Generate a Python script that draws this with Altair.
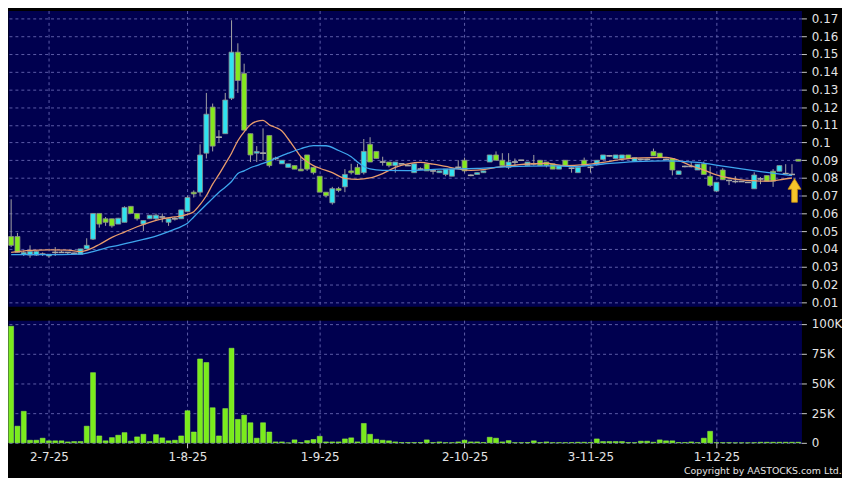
import altair as alt
import pandas as pd

# ---------------- data ----------------
open_ = [
    0.047, 0.047, 0.037, 0.0365, 0.0365, 0.037, 0.036, 0.038, 0.038, 0.038,
    0.0375, 0.037, 0.040, 0.0455, 0.060, 0.057, 0.057, 0.054, 0.055, 0.064,
    0.060, 0.054, 0.057, 0.057, 0.058, 0.055, 0.057, 0.057, 0.061, 0.072,
    0.072, 0.094, 0.120, 0.103, 0.105, 0.125, 0.151, 0.139, 0.105, 0.094,
    0.094, 0.104, 0.091, 0.088, 0.086, 0.087, 0.085, 0.093, 0.086, 0.081,
    0.072, 0.066, 0.074, 0.075, 0.084, 0.086, 0.083, 0.099, 0.095, 0.089,
    0.089, 0.087, 0.088, 0.087, 0.083, 0.085, 0.088, 0.084, 0.083, 0.082,
    0.081, 0.086, 0.090, 0.0815, 0.082, 0.083, 0.089, 0.093, 0.090, 0.086,
    0.089, 0.090, 0.087, 0.088, 0.090, 0.089, 0.088, 0.085, 0.090, 0.0855,
    0.083, 0.090, 0.086, 0.0875, 0.0905, 0.0925, 0.091, 0.091, 0.093, 0.0895,
    0.0905, 0.0905, 0.095, 0.094, 0.0905, 0.091, 0.082, 0.0865, 0.0865, 0.0845,
    0.088, 0.081, 0.0726, 0.0845, 0.0786, 0.078, 0.078, 0.0775, 0.0739, 0.0795,
    0.0814, 0.0838, 0.0838, 0.0825, 0.082, 0.0905,
]
high = [
    0.068, 0.049, 0.039, 0.042, 0.039, 0.038, 0.037, 0.041, 0.039, 0.038,
    0.038, 0.040, 0.046, 0.060, 0.060, 0.058, 0.057, 0.0575, 0.064, 0.064,
    0.060, 0.056, 0.059, 0.060, 0.060, 0.057, 0.058, 0.062, 0.070, 0.073,
    0.099, 0.128, 0.122, 0.107, 0.128, 0.169, 0.156, 0.1445, 0.105, 0.098,
    0.108, 0.104, 0.092, 0.090, 0.088, 0.087, 0.092, 0.093, 0.086, 0.081,
    0.072, 0.075, 0.075, 0.085, 0.088, 0.088, 0.102, 0.103, 0.095, 0.092,
    0.089, 0.089, 0.088, 0.088, 0.088, 0.086, 0.088, 0.085, 0.084, 0.085,
    0.085, 0.090, 0.0915, 0.082, 0.083, 0.084, 0.093, 0.095, 0.094, 0.094,
    0.091, 0.090, 0.089, 0.093, 0.090, 0.089, 0.088, 0.087, 0.090, 0.086,
    0.086, 0.0915, 0.087, 0.090, 0.093, 0.093, 0.093, 0.093, 0.093, 0.0915,
    0.091, 0.091, 0.0966, 0.094, 0.091, 0.091, 0.084, 0.087, 0.089, 0.0878,
    0.0893, 0.0865, 0.0776, 0.0855, 0.079, 0.081, 0.078, 0.0775, 0.0832, 0.0805,
    0.0814, 0.085, 0.087, 0.0878, 0.0878, 0.0905,
]
low = [
    0.041, 0.038, 0.036, 0.035, 0.036, 0.036, 0.035, 0.036, 0.038, 0.037,
    0.037, 0.037, 0.040, 0.045, 0.052, 0.053, 0.052, 0.054, 0.055, 0.060,
    0.056, 0.050, 0.057, 0.056, 0.055, 0.053, 0.056, 0.057, 0.061, 0.069,
    0.070, 0.091, 0.095, 0.100, 0.105, 0.124, 0.128, 0.107, 0.089, 0.089,
    0.090, 0.086, 0.090, 0.088, 0.086, 0.085, 0.084, 0.084, 0.082, 0.072,
    0.069, 0.065, 0.072, 0.072, 0.082, 0.082, 0.082, 0.089, 0.091, 0.087,
    0.086, 0.083, 0.088, 0.087, 0.083, 0.085, 0.084, 0.082, 0.083, 0.081,
    0.081, 0.085, 0.083, 0.081, 0.082, 0.083, 0.089, 0.090, 0.087, 0.085,
    0.087, 0.090, 0.087, 0.087, 0.087, 0.086, 0.085, 0.085, 0.087, 0.083,
    0.083, 0.087, 0.083, 0.087, 0.090, 0.092, 0.091, 0.091, 0.091, 0.089,
    0.090, 0.090, 0.0925, 0.0915, 0.090, 0.0815, 0.082, 0.086, 0.086, 0.0845,
    0.082, 0.075, 0.072, 0.079, 0.076, 0.077, 0.078, 0.0775, 0.0739, 0.0765,
    0.0782, 0.075, 0.0838, 0.0823, 0.0823, 0.0895,
]
close = [
    0.042, 0.038, 0.038, 0.0385, 0.0385, 0.037, 0.037, 0.038, 0.038, 0.038,
    0.0375, 0.040, 0.042, 0.060, 0.054, 0.055, 0.053, 0.0573, 0.0634, 0.060,
    0.057, 0.056, 0.059, 0.059, 0.058, 0.057, 0.057, 0.062, 0.069, 0.071,
    0.093, 0.116, 0.098, 0.103, 0.124, 0.151, 0.135, 0.107, 0.093, 0.095,
    0.094, 0.087, 0.091, 0.090, 0.088, 0.085, 0.084, 0.085, 0.083, 0.072,
    0.070, 0.074, 0.073, 0.082, 0.083, 0.082, 0.095, 0.089, 0.091, 0.089,
    0.087, 0.089, 0.088, 0.087, 0.088, 0.085, 0.084, 0.084, 0.084, 0.085,
    0.085, 0.086, 0.084, 0.0815, 0.083, 0.084, 0.093, 0.090, 0.087, 0.089,
    0.089, 0.090, 0.089, 0.088, 0.087, 0.087, 0.085, 0.087, 0.087, 0.0855,
    0.086, 0.087, 0.086, 0.090, 0.093, 0.0925, 0.093, 0.093, 0.091, 0.0915,
    0.0905, 0.0905, 0.0925, 0.0915, 0.0905, 0.0845, 0.084, 0.0865, 0.0865, 0.0878,
    0.082, 0.0758, 0.0776, 0.079, 0.0786, 0.078, 0.078, 0.0775, 0.0817, 0.0795,
    0.0782, 0.0782, 0.087, 0.0825, 0.082, 0.0895,
]
volume_k = [
    98, 14, 26.5, 2.2, 2.2, 3.9, 1.7, 1.7, 1.7, 0.8,
    1.1, 1.1, 14, 59, 5.8, 1.7, 4.4, 6.4, 8.6, 1.4,
    5, 7.2, 1.1, 6.9, 4.2, 1.7, 2.2, 5.8, 27, 9.1,
    70.5, 67.5, 29.5, 5.8, 28.8, 79.5, 19.7, 23.3, 16.9, 3.9,
    16.9, 9.1, 0.8, 0.8, 0, 2.5, 0.3, 1.9, 2.8, 5.5,
    0.8, 0.8, 0.8, 3.3, 4.2, 0.8, 16.3, 7.2, 3, 2.2,
    1.7, 0.8, 0.3, 0.3, 0.3, 0.3, 2.5, 0.3, 0.8, 0.2,
    0.2, 0.8, 2.2, 0.8, 0.8, 0.3, 4.7, 3.9, 0.8, 1.9,
    0.2, 0.2, 0.3, 1.7, 0.3, 0.8, 0.2, 0.2, 0.2, 0.3,
    0.5, 0.5, 0.3, 3.3, 1.1, 1.1, 1.1, 1.1, 0.3, 0.2,
    1.4, 1.4, 0.5, 2.5, 1.7, 1.7, 0.3, 0.3, 0.8, 0.2,
    3.9, 9.7, 0.2, 0.2, 0.2, 0.1, 0.1, 0.1, 0.2, 0.5,
    0.5, 0.5, 0.5, 0.5, 0.5, 0.5,
]

# moving averages as drawn on the reference (sampled)
ma_fast_idx = [0, 3, 6, 9, 11, 12, 14, 16, 18, 20, 22, 24, 26, 28, 29, 30, 31, 32, 33, 34,
               35, 36, 37, 38, 39, 40, 41, 42, 43, 44, 45, 46, 47, 48, 49, 51, 53, 55, 57, 59,
               61, 63, 65, 67, 69, 71, 73, 75, 77, 79, 82, 85, 88, 91, 94, 97, 100, 104, 106, 108,
               110, 112, 114, 116, 118, 120, 122, 124]
ma_fast_val = [0.0380, 0.0392, 0.0395, 0.0393, 0.0384, 0.0392, 0.0425, 0.0465, 0.0495, 0.0525,
               0.0550, 0.0570, 0.0580, 0.0595, 0.0610, 0.0650, 0.0700, 0.0765, 0.0820, 0.0880,
               0.0940, 0.1010, 0.1060, 0.1100, 0.1120, 0.1125, 0.1100, 0.1085, 0.1065, 0.1020,
               0.0970, 0.0920, 0.0892, 0.0870, 0.0855, 0.0830, 0.0798, 0.0792, 0.0800, 0.0825,
               0.0860, 0.0880, 0.0888, 0.0878, 0.0865, 0.0852, 0.0843, 0.0847, 0.0860, 0.0869,
               0.0879, 0.0882, 0.0870, 0.0875, 0.0888, 0.0905, 0.0913, 0.0916, 0.0900, 0.0869,
               0.0845, 0.0818, 0.0800, 0.0790, 0.0785, 0.0782, 0.0790, 0.0800]
ma_slow_idx = [0, 4, 8, 11, 13, 15, 17, 19, 21, 23, 25, 26, 27, 28, 29, 30, 31, 32, 33, 34,
               35, 36, 37, 38, 39, 40, 41, 42, 44, 46, 48, 50, 52, 54, 55, 56, 57, 59, 63, 68,
               74, 79, 86, 89, 94, 99, 104, 109, 113, 116, 120, 124]
ma_slow_val = [0.0368, 0.0368, 0.0368, 0.0370, 0.0385, 0.0405, 0.0420, 0.0437, 0.0453, 0.0472,
               0.0497, 0.0511, 0.0526, 0.0545, 0.0580, 0.0615, 0.0650, 0.0685, 0.0720, 0.0748,
               0.0780, 0.0825, 0.0840, 0.0858, 0.0870, 0.0882, 0.0895, 0.0912, 0.0940, 0.0965,
               0.0983, 0.0982, 0.0955, 0.0920, 0.0890, 0.0865, 0.0851, 0.0843, 0.0842, 0.0850,
               0.0854, 0.0864, 0.0869, 0.0864, 0.0879, 0.0892, 0.0897, 0.0888, 0.0867, 0.0851,
               0.0832, 0.0814]

tick_idx = [6, 28, 49, 72, 92, 112]
tick_labels = ["2-7-25", "1-8-25", "1-9-25", "2-10-25", "3-11-25", "1-12-25"]
price_ticks = [0.01, 0.02, 0.03, 0.04, 0.05, 0.06, 0.07, 0.08, 0.09, 0.10,
               0.11, 0.12, 0.13, 0.14, 0.15, 0.16, 0.17]
vol_ticks = [0, 25, 50, 75, 100]

marker_idx = [124.4]
marker_val = [0.073]

n = len(open_)
assert len(high) == n and len(low) == n and len(close) == n and len(volume_k) == n
assert len(ma_fast_idx) == len(ma_fast_val) and len(ma_slow_idx) == len(ma_slow_val)

direction = ["up" if c > o else ("down" if c < o else "flat") for o, c in zip(open_, close)]
candles = pd.DataFrame({"idx": list(range(n)), "o": open_, "h": high, "l": low,
                        "c": close, "dir": direction, "vol": volume_k})
fast = pd.DataFrame({"idx": ma_fast_idx, "v": ma_fast_val})
slow = pd.DataFrame({"idx": ma_slow_idx, "v": ma_slow_val})
marker = pd.DataFrame({"idx": marker_idx, "v": marker_val})

# ---------------- styling ----------------
NAVY = "#00004f"
CYAN = "#30e2f0"
GREEN = "#84e81e"
GRIDC = "#5c5ca8"
LABELC = "#e4e4e4"
FONT = "DejaVu Sans"

xscale = alt.Scale(domain=[-0.5, n - 0.5], nice=False, zero=False, padding=0)
grid_kw = dict(grid=True, gridColor=GRIDC, gridDash=[3, 3], gridWidth=1, domain=False, title=None)
lab_kw = dict(labelColor=LABELC, labelFontSize=12, labelFont=FONT, tickColor="#c8c8c8",
              tickSize=5, labelFlush=False)

x_price = alt.X("idx:Q", scale=xscale,
                axis=alt.Axis(values=tick_idx, labels=False, ticks=False, **grid_kw))
yscale_p = alt.Scale(domain=[0.0076, 0.1745], nice=False, zero=False, padding=0)
y_axis_p = alt.Axis(orient="right", values=price_ticks, format=".2~f", labelPadding=5,
                    **grid_kw, **lab_kw)

base = alt.Chart(candles)
wicks = base.mark_rule(color="#a4a4a4", strokeWidth=1).encode(
    x=x_price, y=alt.Y("l:Q", scale=yscale_p, axis=y_axis_p), y2="h:Q")
bodies = base.mark_bar(size=5, orient="vertical", stroke="#8e8e8e", strokeWidth=0.8).encode(
    x=x_price, y=alt.Y("o:Q", scale=yscale_p, axis=y_axis_p), y2="c:Q",
    color=alt.Color("dir:N", scale=alt.Scale(domain=["up", "down", "flat"],
                                             range=[CYAN, GREEN, "#9c9c9c"]), legend=None))
flats = base.transform_filter("datum.dir == 'flat'").mark_rule(
    color="#a8a8a8", strokeWidth=1.5, xOffset=-3, x2Offset=3).encode(
    x=x_price, x2="idx:Q", y=alt.Y("o:Q", scale=yscale_p, axis=y_axis_p))
fast_line = alt.Chart(fast).mark_line(color="#e99c6c", strokeWidth=1.3, interpolate="monotone").encode(
    x=x_price, y=alt.Y("v:Q", scale=yscale_p, axis=y_axis_p))
slow_line = alt.Chart(slow).mark_line(color="#3ea6ee", strokeWidth=1.3, interpolate="monotone").encode(
    x=x_price, y=alt.Y("v:Q", scale=yscale_p, axis=y_axis_p))
arrow_shape = "M0,-1 L0.55,-0.1 L0.24,-0.1 L0.24,1 L-0.24,1 L-0.24,-0.1 L-0.55,-0.1 Z"
arrow = alt.Chart(marker).mark_point(shape=arrow_shape, size=576, filled=True, fill="#f6c52a",
                                     stroke="#c98e12", strokeWidth=0.8, opacity=1).encode(
    x=x_price, y=alt.Y("v:Q", scale=yscale_p, axis=y_axis_p))

price = alt.layer(wicks, bodies, flats, fast_line, slow_line, arrow).properties(width=802, height=299)

label_expr = " : ".join(f"datum.value == {i} ? '{t}'" for i, t in zip(tick_idx, tick_labels)) + " : ''"
x_vol = alt.X("idx:Q", scale=xscale,
              axis=alt.Axis(values=tick_idx, labelExpr=label_expr, labelPadding=4,
                            **grid_kw, **lab_kw))
y_vol = alt.Y("vol:Q", scale=alt.Scale(domain=[0, 103.1], nice=False, padding=0),
              axis=alt.Axis(orient="right", values=vol_ticks, labelPadding=5,
                            labelExpr="datum.value == 0 ? '0' : datum.value + 'K'", **grid_kw, **lab_kw))
vol = base.mark_bar(size=5, orient="vertical", color="#7aec1c", stroke="#9af04e", strokeWidth=0.5).encode(
    x=x_vol, y=y_vol).properties(
    width=802, height=124,
    title=alt.TitleParams("Copyright by AASTOCKS.com Ltd.", orient="bottom", anchor="end",
                          color=LABELC, fontSize=9.5, fontWeight="normal", font=FONT, offset=3))

chart = alt.vconcat(price, vol, spacing=9).properties(
    padding=0, background="#000000").configure_view(fill=NAVY, strokeOpacity=0)

chart.save("out.html", embed_options={"renderer": "svg", "actions": False})
